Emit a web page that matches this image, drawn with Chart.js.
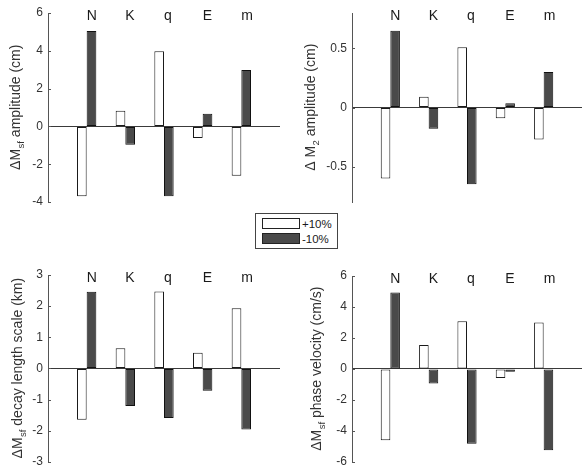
<!DOCTYPE html>
<html lang="en">

<head>
    <meta charset="UTF-8">
    <title>Parameter sensitivity</title>
    <script src="https://cdn.jsdelivr.net/npm/chart.js@4.4.0/dist/chart.umd.min.js"></script>
    <style>
        body { margin: 0; width: 582px; height: 474px; position: relative; overflow: hidden; background: #fff;
               font-family: "Liberation Sans", Arial, sans-serif; }
        .panel { position: absolute; }
        #legend { position: absolute; left: 255px; top: 213px; width: 83px; height: 36px; box-sizing: border-box;
                  border: 1px solid #444; background: #fff; }
        .item { position: absolute; left: 6px; height: 12px; font-size: 11.5px; color: #1a1a1a; line-height: 12px; }
        .sw { display: inline-block; width: 38px; height: 11px; box-sizing: border-box; border: 1px solid #222;
              vertical-align: top; margin-right: 2px; }
    </style>
</head>

<body>
    <div class="panel" style="left:0;top:0;width:291px;height:237px"><canvas id="c1"></canvas></div>
    <div class="panel" style="left:291px;top:0;width:291px;height:237px"><canvas id="c2"></canvas></div>
    <div class="panel" style="left:0;top:237px;width:291px;height:237px"><canvas id="c3"></canvas></div>
    <div class="panel" style="left:291px;top:237px;width:291px;height:237px"><canvas id="c4"></canvas></div>
    <div id="legend"></div>
    <script>
        // parameters perturbed, and the two perturbation series
        const params = ['N', 'K', 'q', 'E', 'm'];
        const seriesLabels = ['+10%', '-10%'];
        const seriesFill = ['#ffffff', '#4a4a4a'];
        const seriesEdge = ['#1a1a1a', '#111111'];

        // change in Msf amplitude (cm)
        const ampSfPlus = [-3.7, 0.83, 3.97, -0.61, -2.61];
        const ampSfMinus = [5.05, -0.97, -3.7, 0.67, 2.98];
        // change in M2 amplitude (cm)
        const ampM2Plus = [-0.6, 0.09, 0.51, -0.09, -0.27];
        const ampM2Minus = [0.65, -0.18, -0.65, 0.035, 0.3];
        // change in Msf decay length scale (km)
        const decayPlus = [-1.65, 0.65, 2.47, 0.5, 1.93];
        const decayMinus = [2.46, -1.21, -1.59, -0.72, -1.96];
        // change in Msf phase velocity (cm/s)
        const phasePlus = [-4.61, 1.55, 3.07, -0.59, 3.0];
        const phaseMinus = [4.93, -0.95, -4.83, -0.19, -5.25];

        const ticksAmpSf = [-4, -2, 0, 2, 4, 6];
        const ticksAmpM2 = [-0.5, 0, 0.5];
        const ticksDecay = [-3, -2, -1, 0, 1, 2, 3];
        const ticksPhase = [-6, -4, -2, 0, 2, 4, 6];

        const axisColor = '#555555';
        const textColor = '#333333';
        const fontFamily = '"Liberation Sans", Arial, sans-serif';

        // draws inward ticks, the parameter names along the top and the y title with its subscript
        const panelDecor = {
            id: 'panelDecor',
            afterDraw(chart, args, opts) {
                const ctx = chart.ctx;
                const area = chart.chartArea;
                const xs = chart.scales.x, ys = chart.scales.y;
                ctx.save();
                ctx.strokeStyle = axisColor;
                ctx.lineWidth = 1;
                ys.ticks.forEach(function (t) {
                    const py = Math.round(ys.getPixelForValue(t.value)) + 0.5;
                    ctx.beginPath();
                    ctx.moveTo(area.left, py);
                    ctx.lineTo(area.left + 3, py);
                    ctx.stroke();
                });

                ctx.fillStyle = '#1a1a1a';
                ctx.font = '14px ' + fontFamily;
                ctx.textAlign = 'left';
                ctx.textBaseline = 'middle';
                params.forEach(function (p, i) {
                    ctx.fillText(p, xs.getPixelForValue(i + 1), area.top + 3);
                });

                const t = opts.title;
                const big = '14px ' + fontFamily, small = '9.5px ' + fontFamily;
                ctx.translate(t.x, (area.top + area.bottom) / 2);
                ctx.rotate(-Math.PI / 2);
                ctx.fillStyle = textColor;
                ctx.font = big;
                const w1 = ctx.measureText(t.main).width;
                const w3 = ctx.measureText(t.rest).width;
                ctx.font = small;
                const w2 = ctx.measureText(t.sub).width;
                let cx = -(w1 + w2 + w3) / 2;
                ctx.font = big;
                ctx.fillText(t.main, cx, 0);
                cx += w1 + 0.5;
                ctx.font = small;
                ctx.fillText(t.sub, cx, 5);
                cx += w2;
                ctx.font = big;
                ctx.fillText(t.rest, cx, 0);
                ctx.restore();
            }
        };

        function makePanel(id, plus, minus, yMin, yMax, yTicks, title, box) {
            const labels = [''].concat(params, ['']);
            const sets = [plus, minus].map(function (vals, k) {
                return {
                    label: seriesLabels[k],
                    data: [null].concat(vals, [null]),
                    backgroundColor: seriesFill[k],
                    borderColor: seriesEdge[k],
                    borderWidth: 1,
                    borderSkipped: false,
                    categoryPercentage: 0.5,
                    barPercentage: 1.0
                };
            });
            return new Chart(document.getElementById(id), {
                type: 'bar',
                data: { labels: labels, datasets: sets },
                options: {
                    responsive: true,
                    maintainAspectRatio: false,
                    animation: false,
                    layout: { padding: { left: 0, right: box.right, top: box.top, bottom: box.bottom } },
                    plugins: {
                        legend: { display: false },
                        tooltip: { enabled: false },
                        panelDecor: { title: title }
                    },
                    scales: {
                        x: { type: 'category', offset: false, display: false },
                        y: {
                            min: yMin,
                            max: yMax,
                            afterBuildTicks: function (s) { s.ticks = yTicks.map(function (v) { return { value: v }; }); },
                            afterFit: function (s) { s.width = box.left; },
                            border: { display: true, color: axisColor, width: 1 },
                            grid: {
                                drawTicks: false,
                                lineWidth: 1,
                                color: function (c) { return c.tick && c.tick.value === 0 ? '#3a3a3a' : 'rgba(0,0,0,0)'; }
                            },
                            ticks: { padding: 5, color: textColor, font: { size: 12, family: fontFamily } }
                        }
                    }
                },
                plugins: [panelDecor]
            });
        }

        makePanel('c1', ampSfPlus, ampSfMinus, -4, 6, ticksAmpSf,
            { main: '\u0394M', sub: 'sf', rest: ' amplitude (cm)', x: 16 },
            { left: 48, right: 11, top: 13, bottom: 35 });
        makePanel('c2', ampM2Plus, ampM2Minus, -0.8, 0.8, ticksAmpM2,
            { main: '\u0394 M', sub: '2', rest: ' amplitude (cm)', x: 20 },
            { left: 61, right: 0, top: 13, bottom: 35 });
        makePanel('c3', decayPlus, decayMinus, -3, 3, ticksDecay,
            { main: '\u0394M', sub: 'sf', rest: ' decay length scale (km)', x: 18 },
            { left: 48, right: 11, top: 38, bottom: 9 });
        makePanel('c4', phasePlus, phaseMinus, -6, 6, ticksPhase,
            { main: '\u0394M', sub: 'sf', rest: ' phase velocity (cm/s)', x: 26 },
            { left: 61, right: 0, top: 39, bottom: 9 });

        // shared legend between the panels
        const legend = document.getElementById('legend');
        seriesLabels.forEach(function (lab, k) {
            const item = document.createElement('div');
            item.className = 'item';
            item.style.top = (4 + k * 15) + 'px';
            const sw = document.createElement('span');
            sw.className = 'sw';
            sw.style.background = seriesFill[k];
            item.appendChild(sw);
            item.appendChild(document.createTextNode(lab));
            legend.appendChild(item);
        });
    </script>
</body>

</html>
